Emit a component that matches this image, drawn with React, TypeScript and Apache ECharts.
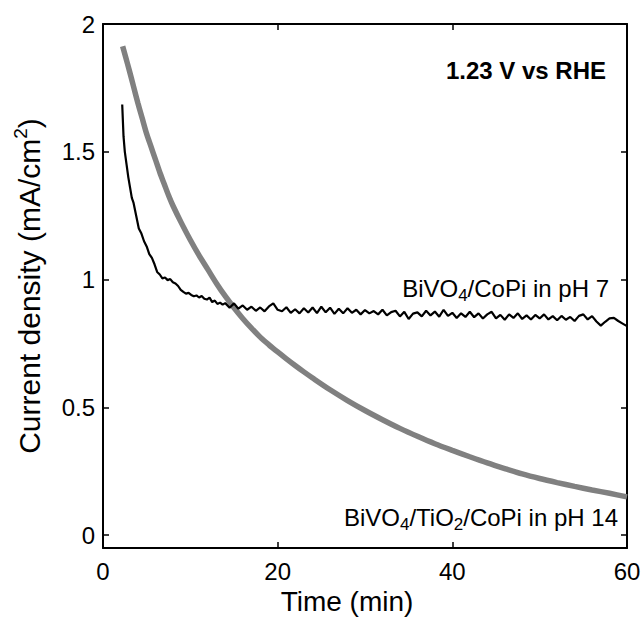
import React, { useEffect, useRef } from "react";
import * as echarts from "echarts";

// Time (min) and current density (mA/cm^2) for BiVO4/TiO2/CoPi in pH 14 (gray)
const grayTime = [2.25, 2.6, 3, 3.5, 4, 4.5, 5, 5.5, 6, 6.5, 7, 7.5, 8, 9, 10, 11, 12, 13, 14, 15, 16, 17, 18, 19, 20, 21, 22, 23, 24, 26, 28, 30, 32, 34, 36, 38, 40, 42, 44, 46, 48, 50, 52, 54, 56, 58, 60];
const grayCurrent = [1.913, 1.87, 1.82, 1.755, 1.69, 1.63, 1.57, 1.52, 1.47, 1.42, 1.375, 1.33, 1.29, 1.22, 1.155, 1.095, 1.04, 0.985, 0.935, 0.89, 0.848, 0.81, 0.775, 0.745, 0.717, 0.69, 0.664, 0.639, 0.615, 0.569, 0.527, 0.488, 0.452, 0.418, 0.387, 0.358, 0.332, 0.307, 0.283, 0.261, 0.24, 0.222, 0.206, 0.191, 0.177, 0.164, 0.15];

// BiVO4/CoPi in pH 7 (black)
const blackTime = [2.2, 2.35, 2.5, 2.7, 2.9, 3.1, 3.3, 3.5, 3.8, 4.1, 4.4, 4.7, 5.0, 5.3, 5.6, 5.9, 6.2, 6.5, 6.8, 7.1, 7.4, 7.7, 8.0, 8.3, 8.6, 8.9, 9.2, 9.5, 9.8, 10.1, 10.4, 10.7, 11.0, 11.3, 11.6, 11.9, 12.2, 12.5, 12.8, 13.1, 13.4, 13.7, 14.0, 14.5, 15.0, 15.5, 16.0, 16.5, 17.0, 17.5, 18.0, 18.5, 19.0, 19.5, 20.0, 20.5, 21.0, 21.5, 22.0, 22.5, 23.0, 23.5, 24.0, 24.5, 25.0, 25.5, 26.0, 26.5, 27.0, 27.5, 28.0, 28.5, 29.0, 29.5, 30.0, 30.5, 31.0, 31.5, 32.0, 32.5, 33.0, 33.5, 34.0, 34.5, 35.0, 35.5, 36.0, 36.5, 37.0, 37.5, 38.0, 38.5, 39.0, 39.5, 40.0, 40.5, 41.0, 41.5, 42.0, 42.5, 43.0, 43.5, 44.0, 44.5, 45.0, 45.5, 46.0, 46.5, 47.0, 47.5, 48.0, 48.5, 49.0, 49.5, 50.0, 50.5, 51.0, 51.5, 52.0, 52.5, 53.0, 53.5, 54.0, 54.5, 55.0, 55.5, 56.0, 56.5, 57.0, 57.5, 58.0, 58.5, 59.0, 59.5, 60.0];
const blackCurrent = [1.685, 1.56, 1.5, 1.45, 1.4, 1.36, 1.32, 1.3, 1.25, 1.2, 1.18, 1.15, 1.13, 1.1, 1.085, 1.06, 1.03, 1.02, 1.005, 1.008, 0.998, 1.002, 0.99, 0.985, 0.975, 0.96, 0.952, 0.945, 0.948, 0.94, 0.935, 0.938, 0.93, 0.936, 0.925, 0.922, 0.93, 0.912, 0.918, 0.905, 0.91, 0.902, 0.908, 0.89, 0.907, 0.886, 0.899, 0.882, 0.894, 0.878, 0.891, 0.876, 0.895, 0.907, 0.882, 0.876, 0.892, 0.87, 0.884, 0.868, 0.888, 0.871, 0.891, 0.869, 0.894, 0.872, 0.89, 0.866, 0.886, 0.868, 0.888, 0.87, 0.882, 0.864, 0.881, 0.868, 0.877, 0.864, 0.882, 0.86, 0.873, 0.878, 0.856, 0.874, 0.846, 0.867, 0.872, 0.856, 0.878, 0.86, 0.875, 0.855, 0.882, 0.858, 0.87, 0.85, 0.868, 0.854, 0.874, 0.853, 0.868, 0.848, 0.864, 0.874, 0.848, 0.862, 0.843, 0.864, 0.85, 0.868, 0.846, 0.86, 0.844, 0.862, 0.848, 0.864, 0.844, 0.857, 0.841, 0.858, 0.843, 0.854, 0.838, 0.858, 0.864, 0.844, 0.857, 0.836, 0.82, 0.835, 0.848, 0.85, 0.838, 0.828, 0.818];

const xTicks = [0, 20, 40, 60];
const yTicks = [0, 0.5, 1, 1.5, 2];

const FONT = "'Liberation Sans', Arial, sans-serif";
const TICK_FS = 24;
const TITLE_FS = 30;
const XTITLE_FS = 28;
const NOTE_FS = 24;

const W = 644;
const H = 617;

export default function App() {
  const ref = useRef<HTMLDivElement>(null);
  useEffect(() => {
    document.body.style.margin = "0";
    document.documentElement.style.overflow = "hidden";
    document.body.style.overflow = "hidden";
    if (!ref.current) return;
    const chart = echarts.init(ref.current, undefined, { renderer: "svg", width: W, height: H });
    const tickStyle = { color: "#000", width: 1.5 };
    const lineOn = { show: true, onZero: false, lineStyle: { color: "#000", width: 2 } };
    const subRich = {
      a: { fontSize: NOTE_FS, fontFamily: FONT, color: "#000", lineHeight: 32, verticalAlign: "middle" },
      sub: { fontSize: 17, fontFamily: FONT, color: "#000", lineHeight: 13, verticalAlign: "bottom" },
    };
    chart.setOption({
      animation: false,
      backgroundColor: "#fff",
      textStyle: { fontFamily: FONT },
      grid: { left: 103, top: 24, right: 17, bottom: 69, outerBoundsMode: "none", containLabel: false },
      xAxis: [
        {
          type: "value",
          min: 0,
          max: 60,
          interval: 20,
          position: "bottom",
          axisLine: lineOn,
          splitLine: { show: false },
          axisTick: { show: true, inside: true, length: 6, lineStyle: tickStyle, customValues: xTicks },
          axisLabel: { show: true, margin: 11, fontSize: TICK_FS, color: "#000", fontFamily: FONT, customValues: xTicks },
          name: "Time (min)",
          nameLocation: "middle",
          nameGap: 34,
          nameTextStyle: { fontSize: XTITLE_FS, color: "#000", fontFamily: FONT, padding: [0, 36, 0, 0] },
        },
        {
          type: "value",
          min: 0,
          max: 60,
          interval: 20,
          position: "top",
          axisLine: lineOn,
          splitLine: { show: false },
          axisTick: { show: true, inside: true, length: 6, lineStyle: tickStyle, customValues: xTicks },
          axisLabel: { show: false },
        },
      ],
      yAxis: [
        {
          type: "value",
          min: -0.05,
          max: 2,
          position: "left",
          axisLine: lineOn,
          splitLine: { show: false },
          axisTick: { show: true, inside: true, length: 6, lineStyle: tickStyle, customValues: yTicks },
          axisLabel: { show: true, margin: 8, fontSize: TICK_FS, color: "#000", fontFamily: FONT, customValues: yTicks, formatter: (v: number) => String(v) },
          name: "{a|Current density (mA/cm}{sup|2}{a|)}",
          nameLocation: "middle",
          nameRotate: 90,
          nameGap: 56,
          nameTextStyle: {
            color: "#000",
            rich: {
              a: { fontSize: TITLE_FS, fontFamily: FONT, color: "#000", lineHeight: 36, verticalAlign: "middle" },
              sup: { fontSize: 19, fontFamily: FONT, color: "#000", lineHeight: 15, verticalAlign: "top" },
            },
          },
        },
        {
          type: "value",
          min: -0.05,
          max: 2,
          position: "right",
          axisLine: lineOn,
          splitLine: { show: false },
          axisTick: { show: true, inside: true, length: 6, lineStyle: tickStyle, customValues: yTicks },
          axisLabel: { show: false },
        },
      ],
      series: [
        {
          type: "line",
          name: "BiVO4/TiO2/CoPi in pH 14",
          data: grayTime.map((t, i) => [t, grayCurrent[i]]),
          showSymbol: false,
          symbol: "none",
          smooth: 0.3,
          lineStyle: { color: "#808080", width: 5.5 },
          itemStyle: { color: "#808080" },
          xAxisIndex: 0,
          yAxisIndex: 0,
          z: 2,
        },
        {
          type: "line",
          name: "BiVO4/CoPi in pH 7",
          data: blackTime.map((t, i) => [t, blackCurrent[i]]),
          showSymbol: false,
          symbol: "none",
          lineStyle: { color: "#000", width: 2.2 },
          itemStyle: { color: "#000" },
          xAxisIndex: 0,
          yAxisIndex: 0,
          z: 3,
        },
      ],
      graphic: [
        {
          type: "text",
          x: 606,
          y: 70,
          style: {
            text: "1.23 V vs RHE",
            fontSize: NOTE_FS,
            fontWeight: "bold",
            fontFamily: FONT,
            fill: "#000",
            align: "right",
            verticalAlign: "middle",
          },
        },
        {
          type: "text",
          x: 609,
          y: 288,
          style: {
            text: "{a|BiVO}{sub|4}{a|/CoPi in pH 7}",
            rich: subRich,
            align: "right",
            verticalAlign: "middle",
          },
        },
        {
          type: "text",
          x: 618,
          y: 517,
          style: {
            text: "{a|BiVO}{sub|4}{a|/TiO}{sub|2}{a|/CoPi in pH 14}",
            rich: subRich,
            align: "right",
            verticalAlign: "middle",
          },
        },
      ],
    });
    return () => chart.dispose();
  }, []);
  return <div ref={ref} style={{ width: W, height: H }} />;
}
